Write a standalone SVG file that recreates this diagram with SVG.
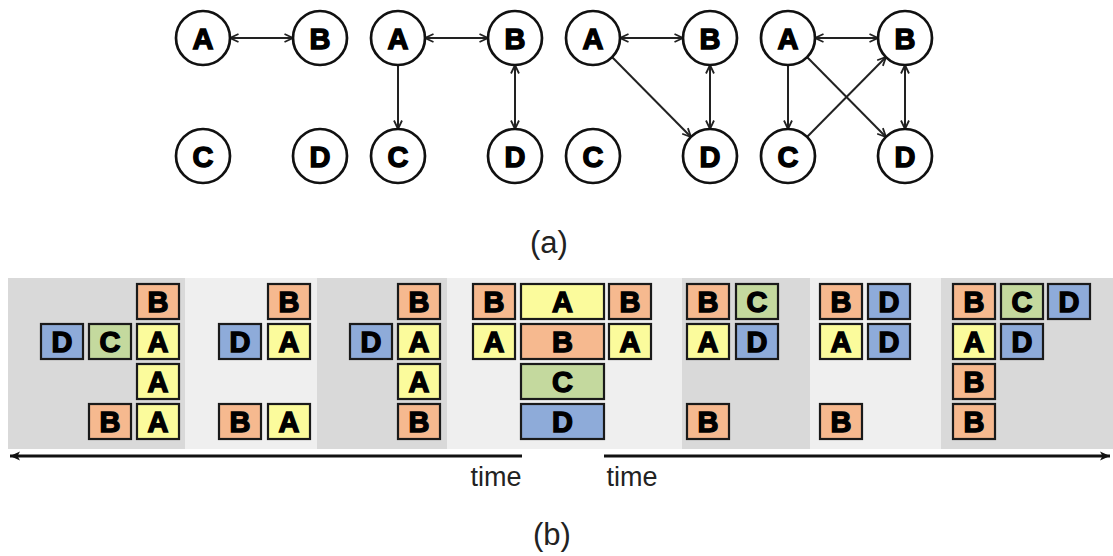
<svg xmlns="http://www.w3.org/2000/svg" width="1113" height="556" viewBox="0 0 1113 556">
<style>
.n circle{fill:#fff;stroke:#111;stroke-width:2.7}
.lt{font-family:"Liberation Sans",Arial,sans-serif;font-weight:bold;font-size:29px;text-anchor:middle;fill:#000;stroke:#000;stroke-width:1.4}
.e{stroke:#222;stroke-width:2;fill:none}
.bx rect{stroke:#1a1a1a;stroke-width:2.2}
.A rect{fill:#fbfb9c}.B rect{fill:#f6b98f}.C rect{fill:#c4d99e}.D rect{fill:#8eabd9}
.cap{font-family:"Liberation Sans",Arial,sans-serif;fill:#222;text-anchor:middle}
.ax{stroke:#111;stroke-width:3.2;fill:none}
</style>
<defs>
<marker id="ah" markerUnits="userSpaceOnUse" viewBox="0 0 10 10" refX="9.5" refY="5" markerWidth="10" markerHeight="10" orient="auto-start-reverse">
<path d="M1,1 L9.5,5 L1,9" fill="none" stroke="#222" stroke-width="1.8"/>
</marker>
<marker id="ta" markerUnits="userSpaceOnUse" viewBox="0 0 12 12" refX="11" refY="6" markerWidth="12" markerHeight="12" orient="auto">
<path d="M1,1.5 L11,6 L1,10.5 L3.5,6 Z" fill="#111"/>
</marker>
</defs>

<!-- (a) graphs -->
<g id="edges-a">
<line class="e" x1="230" y1="38" x2="293" y2="38" marker-start="url(#ah)" marker-end="url(#ah)"/>
<line class="e" x1="425" y1="38" x2="488" y2="38" marker-start="url(#ah)" marker-end="url(#ah)"/>
<line class="e" x1="398" y1="65" x2="398" y2="129" marker-end="url(#ah)"/>
<line class="e" x1="515" y1="65" x2="515" y2="129" marker-start="url(#ah)" marker-end="url(#ah)"/>
<line class="e" x1="620" y1="38" x2="683" y2="38" marker-start="url(#ah)" marker-end="url(#ah)"/>
<line class="e" x1="612" y1="57" x2="691" y2="137" marker-end="url(#ah)"/>
<line class="e" x1="710" y1="65" x2="710" y2="129" marker-start="url(#ah)" marker-end="url(#ah)"/>
<line class="e" x1="815" y1="38" x2="878" y2="38" marker-start="url(#ah)" marker-end="url(#ah)"/>
<line class="e" x1="788" y1="65" x2="788" y2="129" marker-end="url(#ah)"/>
<line class="e" x1="807" y1="57" x2="886" y2="137" marker-end="url(#ah)"/>
<line class="e" x1="807" y1="137" x2="886" y2="57" marker-end="url(#ah)"/>
<line class="e" x1="905" y1="65" x2="905" y2="129" marker-start="url(#ah)" marker-end="url(#ah)"/>
</g>
<g id="g1A" class="n"><circle cx="203" cy="38" r="27"/><text class="lt" x="203" y="48.5">A</text></g>
<g id="g1B" class="n"><circle cx="320" cy="38" r="27"/><text class="lt" x="320" y="48.5">B</text></g>
<g id="g1C" class="n"><circle cx="203" cy="156" r="27"/><text class="lt" x="203" y="166.5">C</text></g>
<g id="g1D" class="n"><circle cx="320" cy="156" r="27"/><text class="lt" x="320" y="166.5">D</text></g>
<g id="g2A" class="n"><circle cx="398" cy="38" r="27"/><text class="lt" x="398" y="48.5">A</text></g>
<g id="g2B" class="n"><circle cx="515" cy="38" r="27"/><text class="lt" x="515" y="48.5">B</text></g>
<g id="g2C" class="n"><circle cx="398" cy="156" r="27"/><text class="lt" x="398" y="166.5">C</text></g>
<g id="g2D" class="n"><circle cx="515" cy="156" r="27"/><text class="lt" x="515" y="166.5">D</text></g>
<g id="g3A" class="n"><circle cx="593" cy="38" r="27"/><text class="lt" x="593" y="48.5">A</text></g>
<g id="g3B" class="n"><circle cx="710" cy="38" r="27"/><text class="lt" x="710" y="48.5">B</text></g>
<g id="g3C" class="n"><circle cx="593" cy="156" r="27"/><text class="lt" x="593" y="166.5">C</text></g>
<g id="g3D" class="n"><circle cx="710" cy="156" r="27"/><text class="lt" x="710" y="166.5">D</text></g>
<g id="g4A" class="n"><circle cx="788" cy="38" r="27"/><text class="lt" x="788" y="48.5">A</text></g>
<g id="g4B" class="n"><circle cx="905" cy="38" r="27"/><text class="lt" x="905" y="48.5">B</text></g>
<g id="g4C" class="n"><circle cx="788" cy="156" r="27"/><text class="lt" x="788" y="166.5">C</text></g>
<g id="g4D" class="n"><circle cx="905" cy="156" r="27"/><text class="lt" x="905" y="166.5">D</text></g>
<text class="cap" x="549" y="253" font-size="31">(a)</text>

<!-- (b) bands -->
<g id="bands">
<rect x="8" y="278" width="177" height="171" fill="#d9d9d9"/>
<rect x="185" y="278" width="132" height="171" fill="#efefef"/>
<rect x="317" y="278" width="130" height="171" fill="#d9d9d9"/>
<rect x="447" y="278" width="235" height="171" fill="#efefef"/>
<rect x="682" y="278" width="128" height="171" fill="#d9d9d9"/>
<rect x="810" y="278" width="131" height="171" fill="#efefef"/>
<rect x="941" y="278" width="172" height="171" fill="#d9d9d9"/>
</g>

<!-- panel 1 -->
<g id="p1B0" class="bx B"><rect x="137" y="284" width="42" height="35"/><text class="lt" x="158" y="312">B</text></g>
<g id="p1D1" class="bx D"><rect x="41" y="324" width="42" height="35"/><text class="lt" x="62" y="352">D</text></g>
<g id="p1C1" class="bx C"><rect x="89" y="324" width="42" height="35"/><text class="lt" x="110" y="352">C</text></g>
<g id="p1A1" class="bx A"><rect x="137" y="324" width="42" height="35"/><text class="lt" x="158" y="352">A</text></g>
<g id="p1A2" class="bx A"><rect x="137" y="364" width="42" height="35"/><text class="lt" x="158" y="392">A</text></g>
<g id="p1B3" class="bx B"><rect x="89" y="404" width="42" height="35"/><text class="lt" x="110" y="432">B</text></g>
<g id="p1A3" class="bx A"><rect x="137" y="404" width="42" height="35"/><text class="lt" x="158" y="432">A</text></g>
<!-- panel 2 -->
<g id="p2B0" class="bx B"><rect x="268" y="284" width="42" height="35"/><text class="lt" x="289" y="312">B</text></g>
<g id="p2D1" class="bx D"><rect x="219" y="324" width="42" height="35"/><text class="lt" x="240" y="352">D</text></g>
<g id="p2A1" class="bx A"><rect x="268" y="324" width="42" height="35"/><text class="lt" x="289" y="352">A</text></g>
<g id="p2B3" class="bx B"><rect x="219" y="404" width="42" height="35"/><text class="lt" x="240" y="432">B</text></g>
<g id="p2A3" class="bx A"><rect x="268" y="404" width="42" height="35"/><text class="lt" x="289" y="432">A</text></g>
<!-- panel 3 -->
<g id="p3B0" class="bx B"><rect x="398" y="284" width="42" height="35"/><text class="lt" x="419" y="312">B</text></g>
<g id="p3D1" class="bx D"><rect x="350" y="324" width="42" height="35"/><text class="lt" x="371" y="352">D</text></g>
<g id="p3A1" class="bx A"><rect x="398" y="324" width="42" height="35"/><text class="lt" x="419" y="352">A</text></g>
<g id="p3A2" class="bx A"><rect x="398" y="364" width="42" height="35"/><text class="lt" x="419" y="392">A</text></g>
<g id="p3B3" class="bx B"><rect x="398" y="404" width="42" height="35"/><text class="lt" x="419" y="432">B</text></g>
<!-- center panel -->
<g id="p4B0" class="bx B"><rect x="473" y="284" width="42" height="35"/><text class="lt" x="494" y="312">B</text></g>
<g id="p4A0w" class="bx A"><rect x="521" y="284" width="83" height="35"/><text class="lt" x="562.5" y="312">A</text></g>
<g id="p4B0r" class="bx B"><rect x="609" y="284" width="42" height="35"/><text class="lt" x="630" y="312">B</text></g>
<g id="p4A1" class="bx A"><rect x="473" y="324" width="42" height="35"/><text class="lt" x="494" y="352">A</text></g>
<g id="p4B1w" class="bx B"><rect x="521" y="324" width="83" height="35"/><text class="lt" x="562.5" y="352">B</text></g>
<g id="p4A1r" class="bx A"><rect x="609" y="324" width="42" height="35"/><text class="lt" x="630" y="352">A</text></g>
<g id="p4C2w" class="bx C"><rect x="521" y="364" width="83" height="35"/><text class="lt" x="562.5" y="392">C</text></g>
<g id="p4D3w" class="bx D"><rect x="521" y="404" width="83" height="35"/><text class="lt" x="562.5" y="432">D</text></g>
<!-- panel 5 -->
<g id="p5B0" class="bx B"><rect x="687" y="284" width="42" height="35"/><text class="lt" x="708" y="312">B</text></g>
<g id="p5C0" class="bx C"><rect x="736" y="284" width="42" height="35"/><text class="lt" x="757" y="312">C</text></g>
<g id="p5A1" class="bx A"><rect x="687" y="324" width="42" height="35"/><text class="lt" x="708" y="352">A</text></g>
<g id="p5D1" class="bx D"><rect x="736" y="324" width="42" height="35"/><text class="lt" x="757" y="352">D</text></g>
<g id="p5B3" class="bx B"><rect x="687" y="404" width="42" height="35"/><text class="lt" x="708" y="432">B</text></g>
<!-- panel 6 -->
<g id="p6B0" class="bx B"><rect x="820" y="284" width="42" height="35"/><text class="lt" x="841" y="312">B</text></g>
<g id="p6D0" class="bx D"><rect x="868" y="284" width="42" height="35"/><text class="lt" x="889" y="312">D</text></g>
<g id="p6A1" class="bx A"><rect x="820" y="324" width="42" height="35"/><text class="lt" x="841" y="352">A</text></g>
<g id="p6D1" class="bx D"><rect x="868" y="324" width="42" height="35"/><text class="lt" x="889" y="352">D</text></g>
<g id="p6B3" class="bx B"><rect x="820" y="404" width="42" height="35"/><text class="lt" x="841" y="432">B</text></g>
<!-- panel 7 -->
<g id="p7B0" class="bx B"><rect x="953" y="284" width="42" height="35"/><text class="lt" x="974" y="312">B</text></g>
<g id="p7C0" class="bx C"><rect x="1001" y="284" width="42" height="35"/><text class="lt" x="1022" y="312">C</text></g>
<g id="p7D0" class="bx D"><rect x="1048" y="284" width="42" height="35"/><text class="lt" x="1069" y="312">D</text></g>
<g id="p7A1" class="bx A"><rect x="953" y="324" width="42" height="35"/><text class="lt" x="974" y="352">A</text></g>
<g id="p7D1" class="bx D"><rect x="1001" y="324" width="42" height="35"/><text class="lt" x="1022" y="352">D</text></g>
<g id="p7B2" class="bx B"><rect x="953" y="364" width="42" height="35"/><text class="lt" x="974" y="392">B</text></g>
<g id="p7B3" class="bx B"><rect x="953" y="404" width="42" height="35"/><text class="lt" x="974" y="432">B</text></g>

<!-- time axes -->
<g id="axes">
<line class="ax" x1="522" y1="456" x2="10" y2="456" marker-end="url(#ta)"/>
<line class="ax" x1="604" y1="456" x2="1110" y2="456" marker-end="url(#ta)"/>
</g>
<text class="cap" x="496" y="486" font-size="27">time</text>
<text class="cap" x="632" y="486" font-size="27">time</text>
<text class="cap" x="552" y="545" font-size="31">(b)</text>
</svg>
